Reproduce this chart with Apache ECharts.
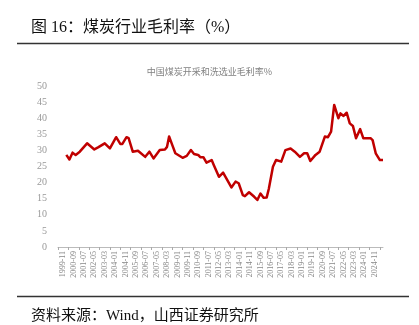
<!DOCTYPE html>
<html>
<head>
<meta charset="utf-8">
<script src="https://cdn.jsdelivr.net/npm/echarts@6/dist/echarts.min.js"></script>
<style>
  html, body { margin: 0; padding: 0; background: #fff; }
  #chart { width: 419px; height: 325px; }
</style>
</head>
<body>
<div id="chart"></div>
<script>
// Monthly category axis: 1999-06 .. 2025-07
const axisStart = [1999, 6];
const axisEnd = [2025, 7];

// Gross margin of coal mining & washing (%), sampled at the turning points
const pointMonths = [
  '2000-02','2000-05','2000-08','2000-11','2001-03','2001-10','2001-11','2002-05','2002-09','2003-03',
  '2003-08','2004-02','2004-06','2004-08','2004-12','2005-02','2005-06','2005-11','2006-06','2006-10',
  '2007-02','2007-08','2008-01','2008-03','2008-05','2008-08','2008-11','2009-06','2009-10','2010-02',
  '2010-05','2010-09','2010-11','2011-02','2011-05','2011-10','2011-12','2012-05','2012-09','2013-05',
  '2013-09','2013-12','2014-04','2014-06','2014-10','2015-03','2015-06','2015-09','2015-12','2016-03',
  '2016-05','2016-09','2016-12','2017-05','2017-09','2018-02','2018-06','2018-11','2019-03','2019-06',
  '2019-09','2020-02','2020-06','2020-11','2021-02','2021-05','2021-08','2021-12','2022-02','2022-05',
  '2022-08','2022-11','2023-02','2023-05','2023-09','2023-12','2024-07','2024-09','2024-12','2025-04',
  '2025-07'
];
const marginValues = [
  28.6, 27.2, 29.3, 28.6, 29.6, 32.2, 32.0, 30.3, 31.0, 32.2,
  30.6, 34.1, 32.0, 32.0, 34.1, 33.8, 29.6, 29.9, 28.0, 29.6,
  27.5, 30.1, 30.3, 31.1, 34.3, 31.7, 29.1, 27.7, 28.3, 30.1,
  28.9, 28.6, 27.9, 27.9, 26.2, 27.0, 25.5, 21.8, 23.1, 18.5,
  20.3, 19.8, 16.1, 15.8, 17.0, 15.6, 14.6, 16.6, 15.3, 15.4,
  18.0, 24.9, 27.0, 26.5, 30.1, 30.6, 29.6, 28.0, 29.1, 29.1,
  26.7, 28.6, 29.6, 34.3, 34.1, 35.8, 44.1, 40.0, 41.5, 40.7,
  41.7, 38.4, 37.6, 33.8, 36.6, 33.8, 33.8, 33.2, 29.1, 27.0,
  27.0
];

const titleText = '图 16：煤炭行业毛利率（%）';
const chartTitle = '中国煤炭开采和洗选业毛利率%';
const sourceText = '资料来源：Wind，山西证券研究所';

function pad(n) { return n < 10 ? '0' + n : '' + n; }
const categories = [];
for (let y = axisStart[0], m = axisStart[1]; y < axisEnd[0] || (y === axisEnd[0] && m <= axisEnd[1]); ) {
  categories.push(y + '-' + pad(m));
  m++;
  if (m > 12) { m = 1; y++; }
}
const firstLabel = categories.indexOf('1999-11');

const seriesData = pointMonths.map((d, i) => [d, marginValues[i]]);

const headFont = "'Liberation Serif', 'Noto Sans CJK SC'";

const chart = echarts.init(document.getElementById('chart'), null, { renderer: 'canvas' });
chart.setOption({
  animation: false,
  backgroundColor: '#ffffff',
  title: [
    {
      text: titleText, left: 26, top: 15,
      textStyle: { fontFamily: headFont, fontSize: 16, fontWeight: 'normal', color: '#111' }
    },
    {
      text: chartTitle, left: 'center', top: 62,
      textStyle: { fontFamily: 'Noto Sans CJK SC', fontSize: 9, fontWeight: 'normal', color: '#808080' }
    },
    {
      text: sourceText, left: 26, top: 304,
      textStyle: { fontFamily: headFont, fontSize: 15, fontWeight: 'normal', color: '#111' }
    }
  ],
  graphic: [
    { type: 'line', shape: { x1: 17, y1: 43.5, x2: 409, y2: 43.5 }, style: { stroke: '#333', lineWidth: 1.3 } },
    { type: 'line', shape: { x1: 17, y1: 296.5, x2: 409, y2: 296.5 }, style: { stroke: '#333', lineWidth: 1.3 } }
  ],
  grid: { left: 58, right: 36, top: 86, bottom: 78, containLabel: false },
  xAxis: {
    type: 'category',
    data: categories,
    boundaryGap: false,
    axisLine: { show: true, lineStyle: { color: '#bbb', width: 1 } },
    axisTick: {
      show: true, length: 3,
      interval: (i) => i % 10 === 0,
      lineStyle: { color: '#aaa' }
    },
    axisLabel: {
      interval: (i) => i >= firstLabel && (i - firstLabel) % 10 === 0,
      rotate: 90,
      fontFamily: 'Liberation Serif',
      fontSize: 8,
      color: '#888',
      margin: 4
    },
    splitLine: { show: false }
  },
  yAxis: {
    type: 'value',
    min: 0, max: 50, interval: 5,
    axisLine: { show: false },
    axisTick: { show: false },
    splitLine: { show: false },
    axisLabel: { fontFamily: 'Liberation Serif', fontSize: 10, color: '#999', margin: 11 }
  },
  series: [{
    type: 'line',
    data: seriesData,
    symbol: 'none',
    lineStyle: { color: '#C00000', width: 2.5, join: 'round' },
    itemStyle: { color: '#C00000' }
  }]
});
</script>
</body>
</html>
